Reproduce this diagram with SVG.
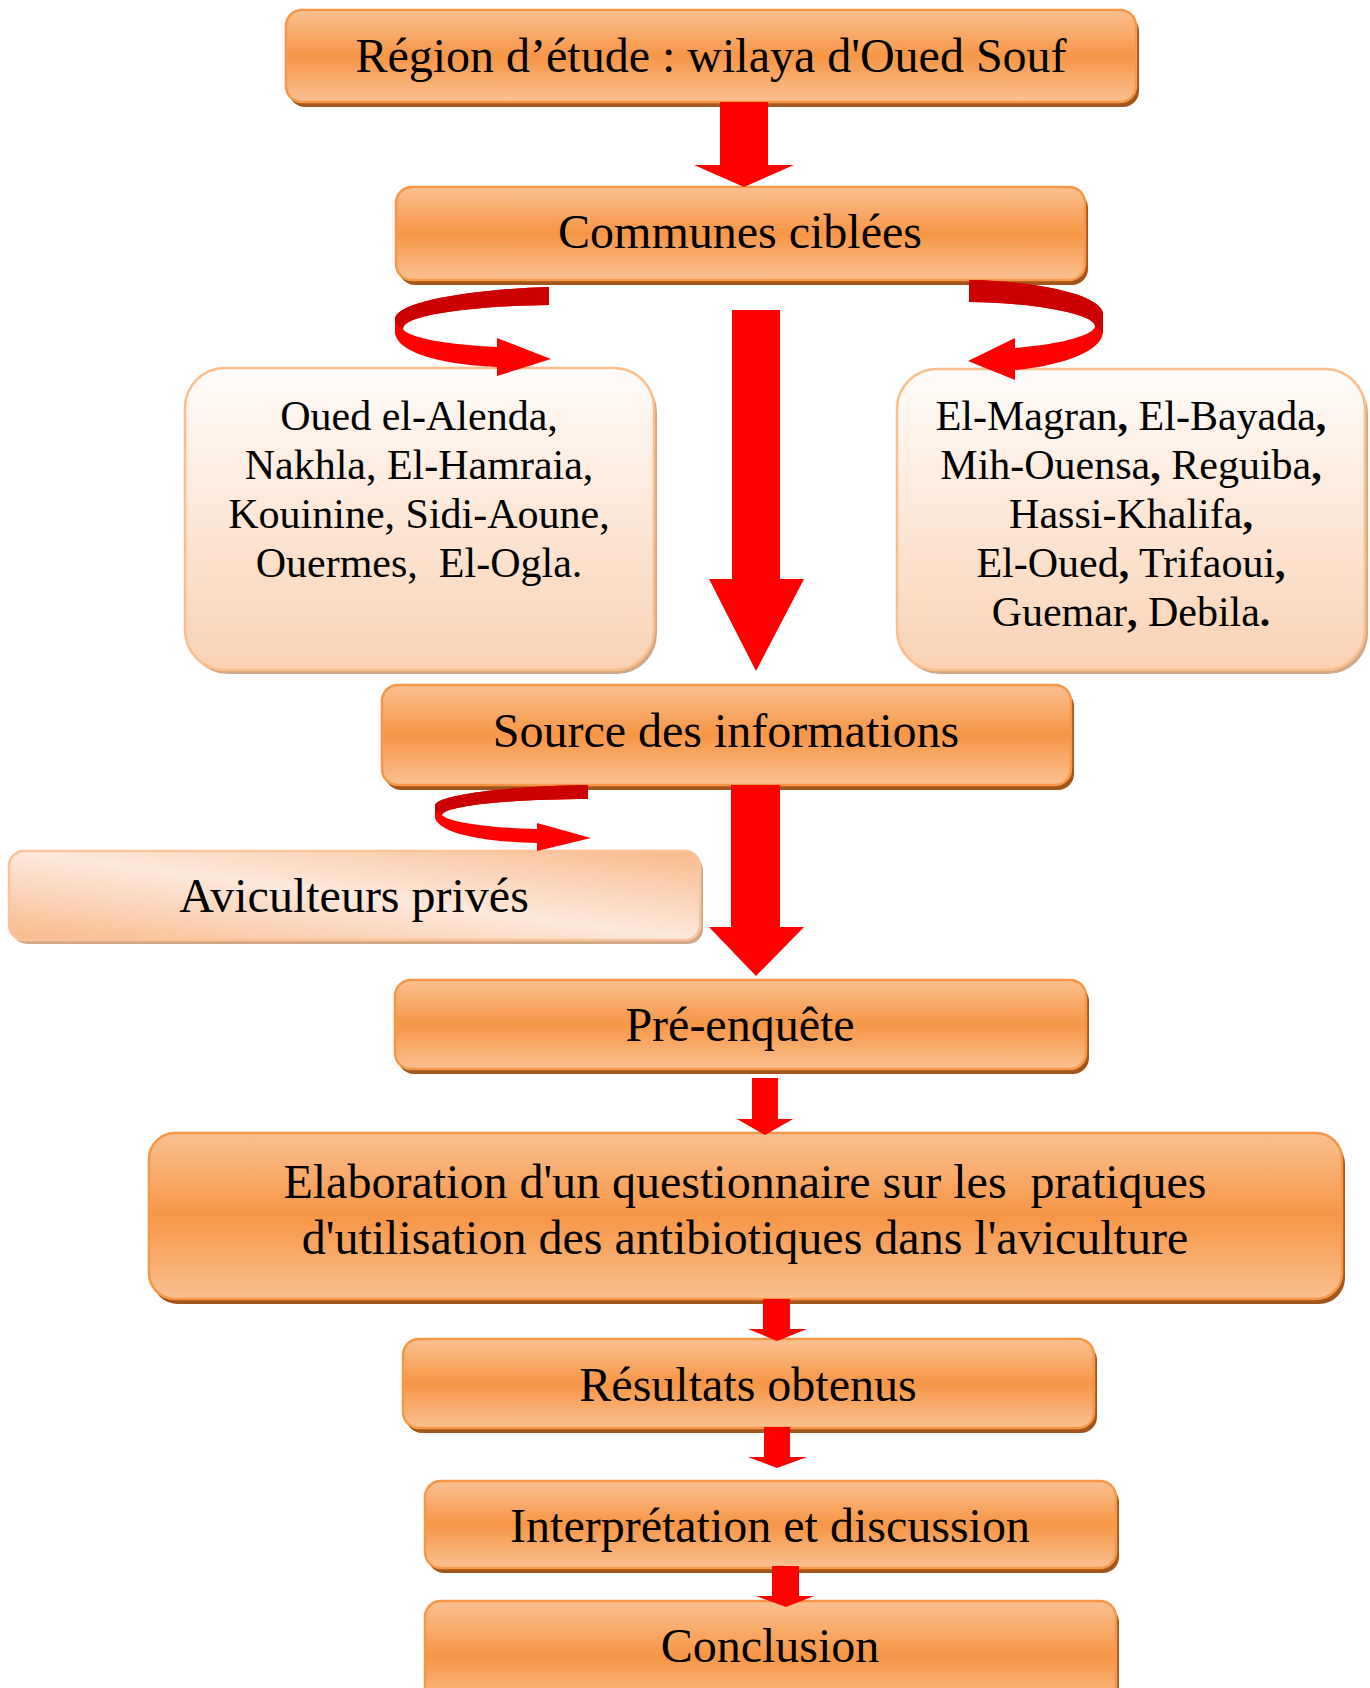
<svg xmlns="http://www.w3.org/2000/svg" width="1370" height="1688" viewBox="0 0 1370 1688">
<defs>
<linearGradient id="gOr" x1="0" y1="0" x2="0" y2="1">
<stop offset="0" stop-color="#fac091"/>
<stop offset="0.5" stop-color="#f79646"/>
<stop offset="1" stop-color="#fac091"/>
</linearGradient>
<linearGradient id="gList" x1="0" y1="0" x2="0" y2="1">
<stop offset="0" stop-color="#fffcfa"/>
<stop offset="1" stop-color="#fad2b3"/>
</linearGradient>
<linearGradient id="gAvi" x1="0" y1="1" x2="1" y2="0">
<stop offset="0" stop-color="#f8ba8c"/>
<stop offset="0.5" stop-color="#fde9dc"/>
<stop offset="1" stop-color="#f8ba8c"/>
</linearGradient>
</defs>
<style>
.box{fill:url(#gOr);stroke:#f79646;stroke-width:2.5}
.shd{fill:#a3561c}
.lst{fill:url(#gList);stroke:#fbbf8e;stroke-width:2.5}
.lshd{fill:#d1a888}
.avi{fill:url(#gAvi);stroke:#fbc49a;stroke-width:2.5}
.t{font-family:"Liberation Serif","Times New Roman",serif;font-size:48px;fill:#000;text-anchor:middle;white-space:pre}
.s{font-family:"Liberation Serif","Times New Roman",serif;font-size:42px;fill:#000;text-anchor:middle;white-space:pre}
.b{font-weight:bold}
.arr{fill:#ff0000}
.dk{fill:#cc0000}
</style>
<rect width="1370" height="1688" fill="#ffffff"/>

<g id="region">
<rect class="shd" x="289" y="15" width="850" height="92" rx="16"/>
<rect class="box" x="286" y="10" width="850" height="92" rx="16"/>
<text class="t" x="711" y="72">Région d’étude : wilaya d'Oued Souf</text>
</g>

<g id="communes">
<rect class="shd" x="399" y="192" width="689" height="93" rx="16"/>
<rect class="box" x="396" y="187" width="689" height="93" rx="16"/>
<text class="t" x="740" y="248">Communes ciblées</text>
</g>

<g id="liste-gauche">
<rect class="lshd" x="188" y="372" width="469" height="302" rx="40"/>
<rect class="lst" x="185" y="368" width="469" height="302" rx="40"/>
<text class="s" x="419" y="430">Oued el-Alenda,</text>
<text class="s" x="419" y="479">Nakhla, El-Hamraia,</text>
<text class="s" x="419" y="528">Kouinine, Sidi-Aoune,</text>
<text class="s" x="419" y="577">Ouermes,  El-Ogla.</text>
</g>

<g id="liste-droite">
<rect class="lshd" x="900" y="373" width="468" height="301" rx="40"/>
<rect class="lst" x="897" y="369" width="468" height="301" rx="40"/>
<text class="s" x="1131" y="430">El-Magran<tspan class="b">,</tspan> El-Bayada<tspan class="b">,</tspan></text>
<text class="s" x="1131" y="479">Mih-Ouensa<tspan class="b">,</tspan> Reguiba<tspan class="b">,</tspan></text>
<text class="s" x="1131" y="528">Hassi-Khalifa<tspan class="b">,</tspan></text>
<text class="s" x="1131" y="577">El-Oued<tspan class="b">,</tspan> Trifaoui<tspan class="b">,</tspan></text>
<text class="s" x="1131" y="626">Guemar<tspan class="b">,</tspan> Debila<tspan class="b">.</tspan></text>
</g>

<g id="source">
<rect class="shd" x="385" y="690" width="689" height="100" rx="16"/>
<rect class="box" x="382" y="685" width="689" height="100" rx="16"/>
<text class="t" x="726" y="747">Source des informations</text>
</g>

<g id="aviculteurs">
<rect class="lshd" x="12" y="855" width="691" height="89" rx="15"/>
<rect class="avi" x="9" y="851" width="691" height="89" rx="15"/>
<text class="t" x="354" y="912">Aviculteurs privés</text>
</g>

<g id="pre-enquete">
<rect class="shd" x="398" y="985" width="691" height="89" rx="16"/>
<rect class="box" x="395" y="980" width="691" height="89" rx="16"/>
<text class="t" x="740" y="1041">Pré-enquête</text>
</g>

<g id="elaboration">
<rect class="shd" x="152" y="1138" width="1193" height="166" rx="26"/>
<rect class="box" x="149" y="1133" width="1193" height="166" rx="26"/>
<text class="t" x="745" y="1198">Elaboration d'un questionnaire sur les  pratiques</text>
<text class="t" x="745" y="1254">d'utilisation des antibiotiques dans l'aviculture</text>
</g>

<g id="resultats">
<rect class="shd" x="406" y="1344" width="691" height="89" rx="16"/>
<rect class="box" x="403" y="1339" width="691" height="89" rx="16"/>
<text class="t" x="748" y="1401">Résultats obtenus</text>
</g>

<g id="interpretation">
<rect class="shd" x="428" y="1486" width="691" height="87" rx="16"/>
<rect class="box" x="425" y="1481" width="691" height="87" rx="16"/>
<text class="t" x="770" y="1542">Interprétation et discussion</text>
</g>

<g id="conclusion">
<rect class="shd" x="428" y="1606" width="691" height="110" rx="16"/>
<rect class="box" x="425" y="1601" width="691" height="110" rx="16"/>
<text class="t" x="770" y="1662">Conclusion</text>
</g>

<g id="connecteurs">
<polygon class="arr" points="720,102 768,102 768,165 794,165 744,187 694,165 720,165"/>
<polygon class="arr" points="732,310 780,310 780,579 804,579 756,671 709,579 732,579"/>
<polygon class="arr" points="731,785 780,785 780,927 804,927 756,976 709,927 731,927"/>
<polygon class="arr" points="752,1078 778,1078 778,1119 793,1119 765,1135 737,1119 752,1119"/>
<polygon class="arr" points="763,1299 790,1299 790,1329 807,1329 777,1341 748,1329 763,1329"/>
<polygon class="arr" points="764,1427 790,1427 790,1457 807,1457 777,1468 748,1457 764,1457"/>
<polygon class="arr" points="772,1566 799,1566 799,1596 814,1596 786,1607 756,1596 772,1596"/>

<path class="arr" d="M549,287 C480,289 400,300 395,318 L395,333 C398,355 450,365 497,367 L497,376 L551,359 L497,338 L497,347 C450,345 408,338 403,329 C402,315 470,306 549,305 Z"/>
<path class="dk" d="M549,287 C480,289 400,300 395,318 L395,323 L403,329 C402,315 470,306 549,305 Z"/>

<path class="arr" d="M969,280 C1040,281 1100,295 1103,313 L1103,333 C1100,355 1050,367 1015,370 L1015,380 L968,361 L1015,338 L1015,348 C1050,345 1090,338 1095,327 C1097,315 1040,303 969,302 Z"/>
<path class="dk" d="M969,280 C1040,281 1100,295 1103,313 L1103,333 L1095,327 C1097,315 1040,303 969,302 Z"/>

<path class="arr" d="M588,785 C520,786 440,793 435,805 L435,818 C440,835 490,842 537,843 L537,851 L591,838 L537,823 L537,829 C490,828 447,822 442,815 C445,805 520,799 588,799 Z"/>
<path class="dk" d="M588,785 C520,786 440,793 435,805 L435,811 L442,815 C445,805 520,799 588,799 Z"/>
</g>
</svg>
